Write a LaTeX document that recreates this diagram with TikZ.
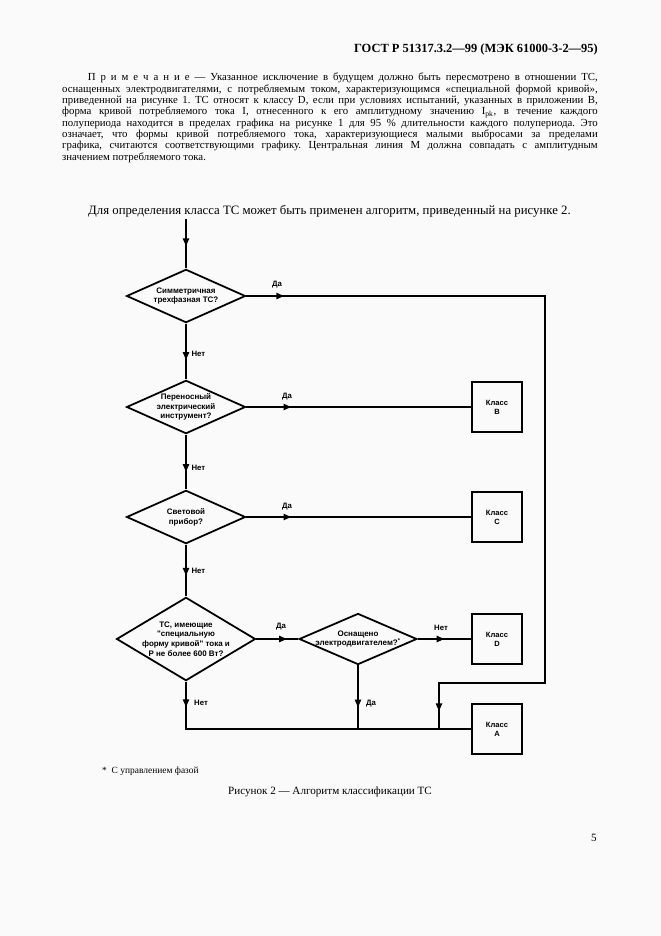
\documentclass[tikz,border=0pt]{standalone}
\usepackage{fontspec}
\setmainfont{Liberation Serif}
\newfontfamily\flowfont{Liberation Sans}
\usetikzlibrary{shapes.geometric, arrows.meta, decorations.markings}
\definecolor{paper}{RGB}{250,250,250}
\frenchspacing

\begin{document}
\begin{tikzpicture}[x=0.9pt, y=-0.9pt,
    decision/.style={diamond, draw, line width=1.6pt, inner sep=0pt, minimum width=107pt, minimum height=48pt},
    classbox/.style={rectangle, draw, line width=1.7pt, minimum width=45pt, minimum height=45pt, align=center, font=\flowfont\bfseries\fontsize{6.8}{8.2}\selectfont},
    dtext/.style={align=center, font=\flowfont\bfseries\fontsize{7.2}{8.8}\selectfont},
    answer/.style={font=\flowfont\bfseries\fontsize{7}{8}\selectfont, inner sep=1pt},
    flow/.style={line width=2pt},
    arrowat/.style={postaction={decorate, decoration={markings, mark=at position #1 with {\arrow{Triangle[length=7pt, width=5.5pt]}}}}}
]
\useasboundingbox[fill=paper] (0,0) rectangle (661,936);

% Page text
\node[anchor=base east, inner sep=0pt, font=\bfseries\fontsize{11.2}{13}\selectfont] (header) at (598,52) {ГОСТ Р 51317.3.2—99 (МЭК 61000-3-2—95)};
\node[anchor=north west, inner sep=0pt, text width=482pt, align=justify, font=\fontsize{9.7}{10.2}\selectfont] (note) at (62,73) {\hspace*{23pt}П р и м е ч а н и е — Указанное исключение в будущем должно быть пересмотрено в отношении ТС,\linebreak
оснащенных электродвигателями, с потребляемым током, характеризующимся «специальной формой кривой»,\linebreak
приведенной на рисунке 1. ТС относят к классу D, если при условиях испытаний, указанных в приложении В,\linebreak
форма кривой потребляемого тока I, отнесенного к его амплитудному значению I\textsubscript{pk}, в течение каждого\linebreak
полупериода находится в пределах графика на рисунке 1 для 95 \% длительности каждого полупериода. Это\linebreak
означает, что формы кривой потребляемого тока, характеризующиеся малыми выбросами за пределами\linebreak
графика, считаются соответствующими графику. Центральная линия М должна совпадать с амплитудным\linebreak
значением потребляемого тока.};
\node[anchor=base west, inner sep=0pt, font=\fontsize{11.5}{13}\selectfont] (intro) at (88,214) {Для определения класса ТС может быть применен алгоритм, приведенный на рисунке 2.};

% Decisions
\node[decision, label={[dtext]center:{Симметричная\\трехфазная ТС?}}] (sym) at (186,296) {};
\node[decision, label={[dtext]center:{Переносный\\электрический\\инструмент?}}] (tool) at (186,407) {};
\node[decision, label={[dtext]center:{Световой\\прибор?}}] (lamp) at (186,517) {};
\node[decision, minimum width=125pt, minimum height=75pt, label={[dtext]center:{ТС, имеющие\\"специальную\\форму кривой" тока и\\Р не более 600 Вт?}}] (shape) at (186,639) {};
\node[decision, minimum width=106pt, minimum height=46pt, label={[dtext]center:{Оснащено\\электродвигателем?\textsuperscript{*}}}] (motor) at (358,639) {};

% Classes
\node[classbox] (clB) at (497,407) {Класс\\B};
\node[classbox] (clC) at (497,517) {Класс\\C};
\node[classbox] (clD) at (497,639) {Класс\\D};
\node[classbox] (clA) at (497,729) {Класс\\A};

% Corners
\coordinate (start) at (186,219);
\coordinate (low) at (186,729);
\coordinate (r1) at (545,296);
\coordinate (r2) at (545,683);
\coordinate (r3) at (439,683);

% Connections
\draw[flow, arrowat=0.55] (start) -- (sym.north);
\draw[flow, arrowat=0.65] (sym.south) -- (tool.north) node[answer, pos=0.55, right, xshift=3pt] {Нет};
\draw[flow, arrowat=0.68] (tool.south) -- (lamp.north) node[answer, pos=0.6, right, xshift=3pt] {Нет};
\draw[flow, arrowat=0.6] (lamp.south) -- (shape.north) node[answer, pos=0.5, right, xshift=3pt] {Нет};
\draw[flow, arrowat=34pt, arrowat=-16pt] (sym.east) -- (r1) -- (r2) -- (r3) -- (r3 |- low);
\draw[flow, arrowat=0.2] (tool.east) -- (clB.west);
\draw[flow, arrowat=0.2] (lamp.east) -- (clC.west);
\draw[flow, arrowat=0.73] (shape.east) -- (motor.west);
\draw[flow, arrowat=0.5] (motor.east) -- (clD.west);
\draw[flow, arrowat=0.66] (motor.south) -- (motor.south |- low);
\draw[flow, arrowat=23pt] (shape.south) -- (low) -- (clA.west);

% Answers
\node[answer] (yes1) at (277,285) {Да};
\node[answer] (yes2) at (287,397) {Да};
\node[answer] (yes3) at (287,507) {Да};
\node[answer] (yes4) at (281,627) {Да};
\node[answer] (no5) at (441,628) {Нет};
\node[answer] (no4) at (201,703) {Нет};
\node[answer] (yes5) at (371,704) {Да};

% Footnote and caption
\node[anchor=base west, inner sep=0pt, font=\fontsize{8.5}{10}\selectfont] (fnote) at (102,773) {*\ \ С управлением фазой};
\node[anchor=base, font=\fontsize{10}{12}\selectfont] (caption) at (330,794) {Рисунок 2 — Алгоритм классификации ТС};
\node[anchor=base, font=\fontsize{10}{12}\selectfont] (pnum) at (594,841) {5};
\end{tikzpicture}
\end{document}
